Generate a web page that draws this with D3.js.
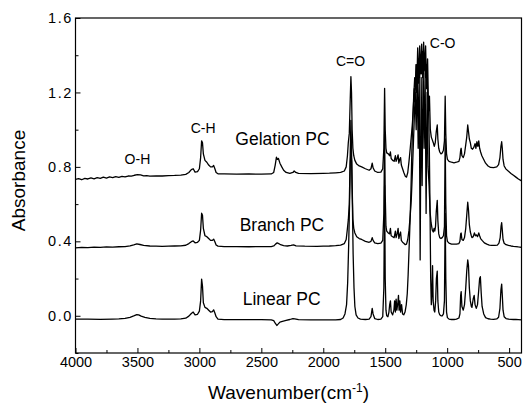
<!DOCTYPE html>
<html>
<head>
<meta charset="utf-8">
<script src="https://cdn.jsdelivr.net/npm/d3@7/dist/d3.min.js"></script>
<style>
  body { margin: 0; background: #fff; }
  svg { display: block; }
  text { font-family: "Liberation Sans", Arial, Helvetica, sans-serif; fill: #000; }
</style>
</head>
<body>
<svg id="chart" width="524" height="410"></svg>
<script>
// FTIR absorbance spectra of three polycarbonate samples, [wavenumber (cm-1), absorbance]
const gelationPC = [
  [4000,.733],[3975,.737],[3950,.731],[3925,.738],[3900,.735],[3875,.741],[3850,.736],[3825,.742],
  [3800,.738],[3775,.745],[3750,.740],[3725,.746],[3700,.742],[3675,.748],[3650,.744],[3625,.749],
  [3600,.746],[3575,.751],[3550,.750],[3525,.755],[3500,.758],[3475,.757],[3450,.752],[3425,.753],
  [3400,.750],[3350,.752],[3300,.751],[3250,.753],[3200,.754],[3150,.756],[3110,.760],[3085,.770],
  [3065,.785],[3050,.790],[3035,.772],[3015,.775],[3000,.790],[2990,.850],[2982,.940],[2975,.930],
  [2968,.870],[2955,.835],[2940,.825],[2925,.810],[2910,.800],[2895,.800],[2885,.808],[2875,.790],
  [2865,.770],[2850,.763],[2800,.762],[2700,.761],[2600,.762],[2500,.761],[2420,.762],[2400,.770],
  [2388,.810],[2378,.852],[2370,.840],[2362,.845],[2350,.820],[2335,.800],[2320,.782],[2300,.770],
  [2270,.765],[2245,.770],[2235,.778],[2222,.770],[2200,.765],[2100,.764],[2000,.765],[1950,.766],
  [1900,.768],[1860,.770],[1830,.778],[1815,.800],[1805,.860],[1798,.930],[1790,.980],[1783,1.15],
  [1777,1.285],[1772,1.20],[1767,1.00],[1761,.900],[1754,.860],[1745,.835],[1730,.815],[1710,.805],
  [1690,.800],[1660,.790],[1630,.782],[1615,.790],[1605,.820],[1598,.795],[1585,.778],[1560,.770],
  [1535,.772],[1520,.790],[1511,.900],[1505,1.222],[1500,1.000],[1494,.900],[1488,.875],[1475,.870],
  [1465,.860],[1458,.880],[1452,.845],[1440,.835],[1428,.830],[1418,.860],[1412,.830],[1404,.845],
  [1396,.865],[1390,.820],[1383,.840],[1376,.850],[1370,.810],[1360,.790],[1350,.770],[1338,.750],
  [1328,.745],[1318,.770],[1308,.830],[1298,.900],[1290,.960],[1282,1.02],[1274,1.10],[1266,1.22],
  [1260,1.15],[1252,1.35],[1246,1.20],[1238,1.44],[1230,1.25],[1222,1.45],[1214,1.30],[1206,1.46],
  [1198,1.28],[1190,1.47],[1182,1.32],[1174,1.45],[1166,1.22],[1158,1.38],[1150,1.10],[1143,1.18],
  [1136,1.00],[1128,.960],[1120,.945],[1112,.930],[1104,.910],[1096,.930],[1088,.990],[1080,1.025],
  [1075,.950],[1068,.900],[1060,.880],[1050,.870],[1040,.875],[1030,.890],[1022,.940],[1016,1.180],
  [1011,.980],[1005,.870],[998,.840],[985,.830],[965,.825],[945,.822],[925,.825],[905,.830],
  [897,.850],[891,.890],[887,.900],[881,.860],[870,.850],[860,.870],[850,.920],[842,.960],
  [834,1.025],[828,.990],[821,.950],[813,.930],[805,.900],[795,.895],[785,.905],[775,.925],
  [768,.900],[760,.935],[752,.910],[745,.940],[738,.900],[730,.880],[720,.860],[705,.840],
  [690,.820],[670,.805],[650,.797],[625,.796],[600,.800],[585,.812],[574,.850],[566,.910],
  [560,.935],[555,.900],[549,.840],[540,.805],[525,.788],[505,.776],[485,.765],[465,.755],
  [445,.745],[425,.735],[400,.725]
];

const branchPC = [
  [4000,.365],[3950,.368],[3900,.366],[3850,.369],[3800,.367],[3750,.370],[3700,.369],[3650,.371],
  [3600,.372],[3560,.376],[3530,.381],[3505,.386],[3480,.383],[3450,.378],[3400,.375],[3350,.374],
  [3300,.373],[3250,.374],[3200,.375],[3150,.376],[3110,.379],[3085,.388],[3065,.398],[3050,.402],
  [3035,.392],[3015,.395],[3000,.405],[2990,.460],[2982,.551],[2975,.540],[2968,.470],[2955,.430],
  [2940,.425],[2925,.415],[2910,.405],[2895,.405],[2885,.412],[2875,.398],[2865,.380],[2850,.374],
  [2800,.372],[2700,.372],[2600,.371],[2500,.372],[2420,.372],[2400,.375],[2385,.385],[2372,.392],
  [2360,.388],[2345,.382],[2320,.377],[2290,.375],[2260,.378],[2240,.381],[2220,.376],[2150,.374],
  [2050,.373],[2000,.374],[1950,.375],[1900,.377],[1860,.380],[1830,.388],[1815,.410],[1805,.470],
  [1798,.515],[1790,.600],[1783,.850],[1777,1.050],[1772,.900],[1767,.700],[1761,.520],[1754,.470],
  [1745,.445],[1730,.425],[1710,.415],[1690,.410],[1660,.400],[1630,.395],[1615,.400],[1605,.420],
  [1598,.405],[1585,.392],[1560,.388],[1535,.390],[1520,.405],[1511,.550],[1505,.980],[1500,.650],
  [1494,.480],[1488,.455],[1475,.445],[1465,.440],[1458,.470],[1452,.430],[1440,.425],[1428,.420],
  [1418,.455],[1412,.420],[1404,.440],[1396,.470],[1390,.415],[1383,.435],[1376,.450],[1370,.405],
  [1360,.395],[1350,.390],[1338,.382],[1328,.385],[1318,.410],[1308,.460],[1298,.540],[1290,.620],
  [1282,.750],[1274,.900],[1266,1.050],[1258,1.200],[1250,1.000],[1242,1.300],[1234,.900],[1226,1.320],
  [1218,.300],[1210,1.280],[1202,.700],[1194,1.350],[1186,.900],[1178,1.300],[1170,.550],[1162,1.200],
  [1154,.800],[1146,.700],[1138,.560],[1130,.500],[1120,.460],[1112,.450],[1106,.470],[1100,.455],
  [1094,.480],[1088,.560],[1080,.620],[1075,.510],[1068,.440],[1060,.420],[1050,.415],[1040,.420],
  [1030,.430],[1022,.480],[1016,.950],[1011,.600],[1005,.430],[998,.400],[985,.390],[965,.385],
  [945,.385],[925,.385],[905,.388],[897,.400],[891,.440],[887,.445],[881,.410],[870,.405],
  [860,.420],[850,.470],[842,.540],[834,.610],[828,.570],[821,.490],[813,.450],[805,.430],
  [800,.420],[790,.425],[780,.445],[772,.430],[765,.435],[755,.425],[745,.445],[738,.430],
  [730,.415],[718,.405],[700,.392],[680,.385],[660,.380],[640,.378],[615,.378],[595,.380],
  [582,.390],[572,.420],[565,.480],[560,.500],[555,.460],[549,.410],[540,.390],[525,.382],
  [505,.378],[485,.375],[465,.373],[445,.372],[425,.370],[400,.368]
];

const linearPC = [
  [4000,-.018],[3900,-.018],[3800,-.019],[3700,-.018],[3650,-.017],[3600,-.014],[3560,-.008],[3530,-.001],
  [3505,.006],[3490,.005],[3470,-.002],[3440,-.008],[3400,-.014],[3350,-.017],[3300,-.018],[3200,-.018],
  [3150,-.017],[3110,-.013],[3085,-.002],[3065,.012],[3050,.020],[3035,.005],[3015,.008],[3000,.025],
  [2990,.080],[2982,.197],[2975,.160],[2968,.070],[2955,.045],[2940,.040],[2925,.030],[2910,.020],
  [2895,.022],[2885,.032],[2875,.015],[2865,-.005],[2850,-.018],[2800,-.021],[2700,-.021],[2600,-.021],
  [2500,-.021],[2420,-.022],[2400,-.026],[2388,-.040],[2375,-.052],[2365,-.045],[2350,-.034],[2330,-.030],
  [2300,-.025],[2270,-.020],[2245,-.015],[2230,-.017],[2200,-.021],[2100,-.022],[2000,-.022],[1900,-.022],
  [1860,-.020],[1840,-.012],[1825,.010],[1812,.060],[1803,.180],[1795,.380],[1788,.600],[1782,.820],
  [1777,.880],[1771,.830],[1765,.600],[1759,.330],[1752,.150],[1745,.050],[1735,.005],[1720,-.012],
  [1700,-.018],[1660,-.020],[1630,-.018],[1615,-.005],[1605,.040],[1598,.010],[1585,-.015],[1560,-.020],
  [1535,-.018],[1520,-.005],[1511,.150],[1505,.700],[1500,.200],[1494,.030],[1488,.000],[1478,-.005],
  [1470,.020],[1464,.060],[1458,.080],[1452,.020],[1440,.005],[1430,.030],[1424,.080],[1418,.020],
  [1412,.090],[1406,.030],[1398,.070],[1393,.110],[1388,.030],[1382,.080],[1376,.020],[1368,.060],
  [1360,.010],[1350,.005],[1340,.020],[1330,.060],[1322,.120],[1315,.220],[1308,.350],[1300,.500],
  [1292,.680],[1285,.880],[1278,1.050],[1270,1.180],[1262,1.280],[1254,1.220],[1246,1.350],[1238,1.250],
  [1230,1.380],[1222,1.280],[1214,1.400],[1206,1.300],[1198,1.420],[1190,1.300],[1182,1.400],[1174,1.280],
  [1166,1.350],[1158,1.200],[1150,1.100],[1144,.900],[1138,.550],[1133,.200],[1128,.060],[1123,.120],
  [1118,.270],[1113,.080],[1106,.030],[1100,.020],[1093,.080],[1087,.200],[1080,.240],[1075,.080],
  [1068,.020],[1060,.005],[1050,.000],[1040,.000],[1030,.010],[1022,.080],[1016,.550],[1011,.200],
  [1005,.020],[998,-.010],[985,-.018],[965,-.020],[945,-.020],[925,-.018],[905,-.012],[897,.010],
  [891,.110],[887,.130],[881,.050],[870,.030],[860,.060],[850,.150],[842,.240],[834,.300],
  [828,.270],[821,.150],[813,.080],[805,.050],[800,.045],[790,.090],[782,.110],[775,.060],
  [765,.040],[755,.060],[745,.140],[738,.200],[732,.210],[725,.120],[718,.050],[705,.010],
  [690,-.010],[670,-.016],[650,-.018],[625,-.019],[600,-.017],[585,-.008],[574,.040],[566,.140],
  [560,.170],[555,.110],[549,.030],[540,-.005],[525,-.015],[505,-.018],[485,-.019],[465,-.020],
  [445,-.020],[425,-.021],[400,-.022]
];

const seriesNames = ["Gelation PC", "Branch PC", "Linear PC"];
const seriesData = [gelationPC, branchPC, linearPC];

const xTickValues = [4000, 3500, 3000, 2500, 2000, 1500, 1000, 500];
const xMinorValues = [3750, 3250, 2750, 2250, 1750, 1250, 750];
const yTickValues = [0.0, 0.4, 0.8, 1.2, 1.6];
const yMinorValues = [-0.2, 0.2, 0.6, 1.0, 1.4];

const bandNames = ["O-H", "C-H", "C=O", "C-O"];

// ---- layout ----
const W = 524, H = 410;
const margin = { left: 75.5, right: 2.5, top: 18, bottom: 57 };
const iw = W - margin.left - margin.right;
const ih = H - margin.top - margin.bottom;

const svg = d3.select("#chart");
const g = svg.append("g").attr("transform", `translate(${margin.left},${margin.top})`);

const x = d3.scaleLinear().domain([4000, 400]).range([0, iw]);
const y = d3.scaleLinear().domain([-0.2, 1.6]).range([ih, 0]);

// spectra
const line = d3.line().x(d => x(d[0])).y(d => y(d[1]));
g.append("g")
  .selectAll("path.spectrum")
  .data(seriesData)
  .join("path")
  .attr("class", "spectrum")
  .attr("d", line)
  .attr("fill", "none")
  .attr("stroke", "#000")
  .attr("stroke-width", 1.3)
  .attr("stroke-linejoin", "round");

// frame
g.append("rect")
  .attr("x", 0).attr("y", 0).attr("width", iw).attr("height", ih)
  .attr("fill", "none").attr("stroke", "#000").attr("stroke-width", 1.2);

// axes with inward ticks
const tickFont = 14.5;
g.append("g").attr("class", "x-axis").attr("transform", `translate(0,${ih})`)
  .call(d3.axisBottom(x).tickValues(xTickValues).tickSize(-5).tickPadding(3.5).tickFormat(d3.format("d")));
g.append("g").attr("transform", `translate(0,${ih})`)
  .call(d3.axisBottom(x).tickValues(xMinorValues).tickSize(-3).tickFormat(""));
g.append("g").attr("class", "y-axis")
  .call(d3.axisLeft(y).tickValues(yTickValues).tickSize(-5).tickPadding(2.5).tickFormat(d3.format(".1f")));
g.append("g")
  .call(d3.axisLeft(y).tickValues(yMinorValues).tickSize(-3).tickFormat(""));

g.selectAll(".domain").remove();
g.selectAll(".tick line").attr("stroke", "#000").attr("stroke-width", 1);
g.selectAll(".tick text")
  .style("font-family", '"Liberation Sans", Arial, sans-serif')
  .style("font-size", tickFont + "px")
  .attr("fill", "#000");
g.selectAll(".y-axis .tick text").style("letter-spacing", "1.6px");

// axis titles
svg.append("text")
  .attr("transform", `translate(25,${margin.top + ih / 2 - 5}) rotate(-90)`)
  .attr("text-anchor", "middle")
  .style("font-size", "19px")
  .text("Absorbance");

const xt = svg.append("text")
  .attr("x", margin.left + iw / 2 - 10).attr("y", 399)
  .attr("text-anchor", "middle")
  .style("font-size", "19px");
xt.append("tspan").text("Wavenumber(cm");
xt.append("tspan").attr("dy", -7).style("font-size", "12px").text("-1");
xt.append("tspan").attr("dy", 7).text(")");

// series names
const nameLayout = [
  { wn: 2710, y: 145 },
  { wn: 2675, y: 230.5 },
  { wn: 2650, y: 305 }
];
svg.selectAll("text.series-name")
  .data(seriesNames)
  .join("text")
  .attr("class", "series-name")
  .attr("x", (d, i) => margin.left + x(nameLayout[i].wn))
  .attr("y", (d, i) => nameLayout[i].y)
  .style("font-size", "17.5px")
  .text(d => d);

// band assignments
const bandLayout = [
  { wn: 3500, y: 164, anchor: "middle" },
  { wn: 2970, y: 133, anchor: "middle" },
  { wn: 1780, y: 66, anchor: "middle" },
  { wn: 1140, y: 48, anchor: "start" }
];
svg.selectAll("text.band")
  .data(bandNames)
  .join("text")
  .attr("class", "band")
  .attr("x", (d, i) => margin.left + x(bandLayout[i].wn))
  .attr("y", (d, i) => bandLayout[i].y)
  .attr("text-anchor", (d, i) => bandLayout[i].anchor)
  .style("font-size", "14px")
  .text(d => d);
</script>
</body>
</html>
